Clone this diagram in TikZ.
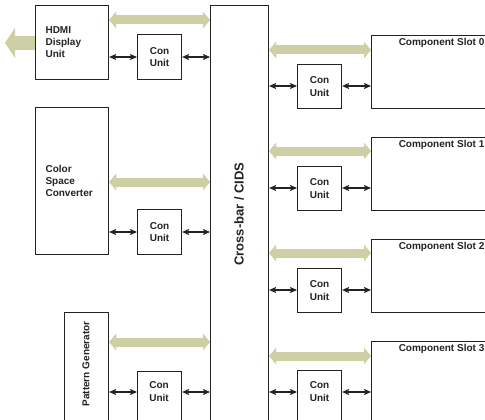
\documentclass[tikz,border=0pt]{standalone}
\usepackage{fontspec}
\setmainfont{Liberation Sans}
\usetikzlibrary{arrows.meta}
\definecolor{busgreen}{RGB}{205,207,164}
\definecolor{edge}{RGB}{35,35,35}
\tikzset{
  block/.style={draw=edge, line width=1.1pt, inner sep=0pt, anchor=north west,
    text=edge, font=\bfseries\fontsize{10}{12}\selectfont},
  leftblock/.style={block, minimum width=73pt, text width=53pt, align=left},
  conunit/.style={block, minimum width=44pt, align=center,
    font=\bfseries\fontsize{10}{12.5}\selectfont},
  unitlabel/.style={inner sep=0pt, align=center, text=edge,
    font=\bfseries\fontsize{10}{12.5}\selectfont},
  slotbox/.style={block, minimum width=140pt},
  slottitle/.style={inner sep=0pt, anchor=north, text=edge,
    font=\bfseries\fontsize{10}{12}\selectfont},
  link/.style={draw=edge, line width=1.1pt,
    {Stealth[length=7pt,width=6pt,inset=1.4pt]}-{Stealth[length=7pt,width=6pt,inset=1.4pt]}},
  bus/.style={draw=busgreen, line width=9pt,
    {Triangle[length=7pt,width=17pt,line width=0pt]}-{Triangle[length=7pt,width=17pt,line width=0pt]}},
  outbus/.style={draw=busgreen, line width=14pt,
    -{Triangle[length=10pt,width=30pt,line width=0pt]}},
}
\begin{document}
\begin{tikzpicture}[x=1pt, y=-1pt]
\clip (0,0) rectangle (485,420);

% central cross-bar
\node[block, minimum width=58pt, minimum height=440pt] (xbar) at (210,5) {};
\node[inner sep=0pt, rotate=90, text=edge, font=\bfseries\fontsize{13}{15}\selectfont]
  (xbarlabel) at (239,214) {Cross-bar / CIDS};

% left-hand units
\node[leftblock, minimum height=74pt] (hdmi) at (35,5) {HDMI\\Display\\Unit};
\node[leftblock, minimum height=147pt] (csc) at (35,107) {Color\\Space\\Converter};
\node[block, minimum width=44pt, minimum height=130pt] (pg) at (64,312) {};
\node[inner sep=0pt, rotate=90, text=edge, font=\bfseries\fontsize{10}{12}\selectfont]
  (pglabel) at (86,364) {Pattern Generator};

\node[conunit, minimum height=45pt] (lcu0) at (137,34) {Con\\Unit};
\node[conunit, minimum height=45pt] (lcu1) at (137,209) {Con\\Unit};
\node[conunit, minimum height=60pt] (lcu2) at (137,371) {};
\node[unitlabel] (lcu2label) at (159,391.5) {Con\\Unit};

% row levels on the left
\coordinate (lb0) at (0,20);
\coordinate (lb1) at (0,182);
\coordinate (lb2) at (0,342);
\coordinate (ll0) at (0,57);
\coordinate (ll1) at (0,232);
\coordinate (ll2) at (0,392);
\coordinate (exit) at (5,43);

\draw[outbus] (hdmi.west |- exit) -- (exit);
\draw[bus] (lb0 -| hdmi.east) -- (lb0 -| xbar.west);
\draw[bus] (lb1 -| csc.east) -- (lb1 -| xbar.west);
\draw[bus] (lb2 -| pg.east) -- (lb2 -| xbar.west);

\draw[link] (ll0 -| hdmi.east) -- (ll0 -| lcu0.west);
\draw[link] (ll0 -| lcu0.east) -- (ll0 -| xbar.west);
\draw[link] (ll1 -| csc.east) -- (ll1 -| lcu1.west);
\draw[link] (ll1 -| lcu1.east) -- (ll1 -| xbar.west);
\draw[link] (ll2 -| pg.east) -- (ll2 -| lcu2.west);
\draw[link] (ll2 -| lcu2.east) -- (ll2 -| xbar.west);

% component slots on the right
\foreach \k/\top/\bus/\lnk in {0/35/50/86, 1/137/151/188, 2/239/253/290} {
  \node[slotbox, minimum height=73pt] (slot\k) at (371,\top) {};
  \node[slottitle] (slottitle\k) at ([yshift=-3pt]slot\k.north) {Component Slot \k};
  \node[conunit, minimum height=44pt] (rcu\k) at (297,\top+29) {Con\\Unit};
  \coordinate (rb\k) at (0,\bus);
  \coordinate (rl\k) at (0,\lnk);
  \draw[bus] (rb\k -| xbar.east) -- (rb\k -| slot\k.west);
  \draw[link] (rl\k -| xbar.east) -- (rl\k -| rcu\k.west);
  \draw[link] (rl\k -| rcu\k.east) -- (rl\k -| slot\k.west);
}

\node[slotbox, minimum height=100pt] (slot3) at (371,341) {};
\node[slottitle] (slottitle3) at ([yshift=-3pt]slot3.north) {Component Slot 3};
\node[conunit, minimum height=60pt] (rcu3) at (297,370) {};
\node[unitlabel] (rcu3label) at (319.5,391.5) {Con\\Unit};
\coordinate (rb3) at (0,356);
\coordinate (rl3) at (0,392);
\draw[bus] (rb3 -| xbar.east) -- (rb3 -| slot3.west);
\draw[link] (rl3 -| xbar.east) -- (rl3 -| rcu3.west);
\draw[link] (rl3 -| rcu3.east) -- (rl3 -| slot3.west);
\end{tikzpicture}
\end{document}
